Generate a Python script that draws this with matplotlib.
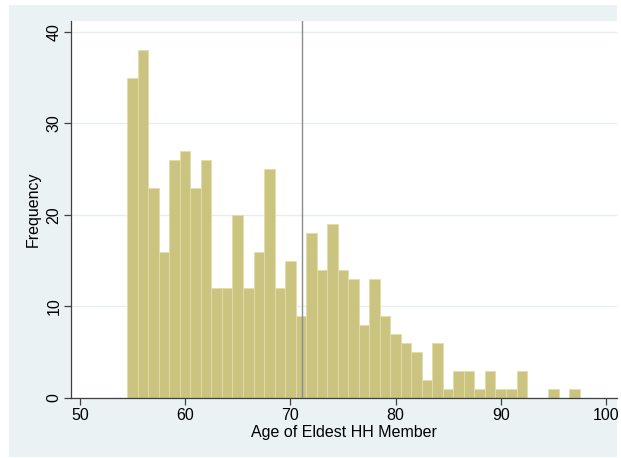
import numpy as np
import matplotlib.pyplot as plt
from matplotlib.patches import Rectangle

# bin centres (one-year bins) and counts
ages = [55, 56, 57, 58, 59, 60, 61, 62, 63, 64, 65, 66, 67, 68, 69, 70, 71, 72, 73, 74, 75,
        76, 77, 78, 79, 80, 81, 82, 83, 84, 85, 86, 87, 88, 89, 90, 91, 92, 93, 94, 95, 96, 97]
counts = [35, 38, 23, 16, 26, 27, 23, 26, 12, 12, 20, 12, 16, 25, 12, 15, 9, 18, 14, 19, 14,
          13, 8, 13, 9, 7, 6, 5, 2, 6, 1, 3, 3, 1, 3, 1, 1, 3, 0, 0, 1, 0, 1]
mean_age = 71.1
x_ticks = [50, 60, 70, 80, 90, 100]
y_ticks = [0, 10, 20, 30, 40]

plt.rcParams["font.family"] = ["Liberation Sans", "DejaVu Sans"]

W, H, dpi = 621, 458, 100
fig = plt.figure(figsize=(W / dpi, H / dpi), dpi=dpi, facecolor="white")
fig.add_artist(Rectangle((9 / W, 1 - 457 / H), (617 - 9) / W, (457 - 5) / H,
                         transform=fig.transFigure, facecolor="#eaf2f3",
                         edgecolor="none", zorder=-10))

left, right, top, bottom = 71, 617, 21, 398
ax = fig.add_axes([left / W, 1 - bottom / H, (right - left) / W, (bottom - top) / H])
ax.set_zorder(1)
ax.set_facecolor("white")

ax.bar(ages, counts, width=1.0, color="#cbc380", edgecolor="#e4dca6", linewidth=0.6, zorder=2)
ax.axvline(mean_age, color="#8c8c8c", linewidth=1.0, zorder=3)

ax.set_xlim(49.15, 101.05)
ax.set_ylim(0, 41.2)
ax.set_xticks(x_ticks)
ax.set_yticks(y_ticks)
ax.grid(axis="y", color="#e6eef0", linewidth=1.0, zorder=1)
ax.set_axisbelow(True)

for side in ("top", "right"):
    ax.spines[side].set_visible(False)
for side in ("left", "bottom"):
    ax.spines[side].set_color("#404040")
    ax.spines[side].set_linewidth(0.9)

ax.tick_params(axis="both", direction="out", length=5, width=0.9, color="#404040",
               labelsize=11.5, pad=2)
plt.setp(ax.get_yticklabels(), rotation=90, va="center")

ax.set_xlabel("Age of Eldest HH Member", fontsize=11.5, labelpad=2)
ax.set_ylabel("Frequency", fontsize=11.5, labelpad=4)

fig.savefig("out.png", dpi=dpi, facecolor="white")
